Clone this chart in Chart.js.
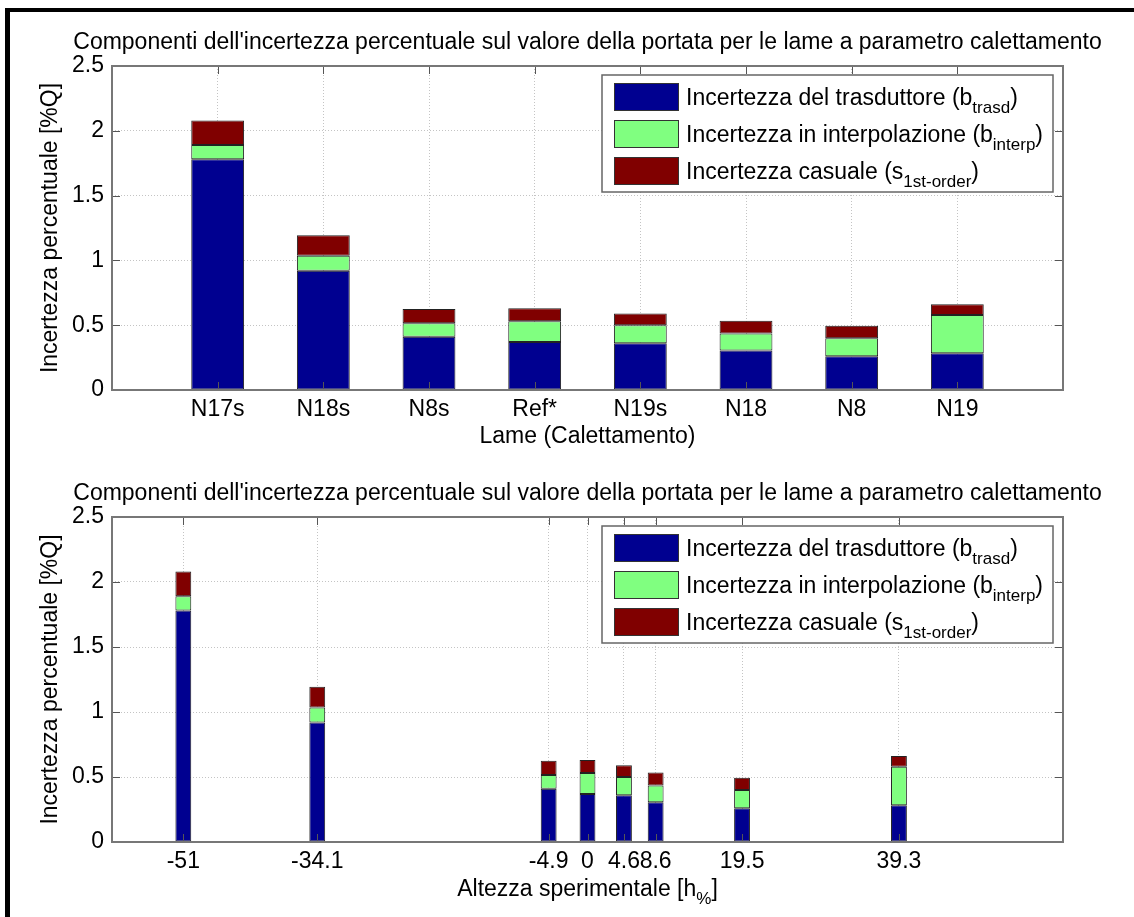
<!DOCTYPE html>
<html>
<head>
<meta charset="utf-8">
<script src="https://cdn.jsdelivr.net/npm/chart.js@4.4.1/dist/chart.umd.min.js"></script>
<style>
  html, body { margin: 0; padding: 0; background: #fff; }
  #page { position: relative; width: 1134px; height: 917px; overflow: hidden; background: #fff; }
  .pane { position: absolute; left: 0; width: 1134px; }
  .frame-top { position: absolute; left: 5px; top: 8px; width: 1129px; height: 4px; background: #000; }
  .frame-left { position: absolute; left: 5px; top: 8px; width: 5px; height: 909px; background: #000; }
</style>
</head>
<body>
<div id="page">
  <div class="pane" style="top:0;height:458px"><canvas id="chartLame"></canvas></div>
  <div class="pane" style="top:458px;height:459px"><canvas id="chartAltezza"></canvas></div>
  <div class="frame-top"></div>
  <div class="frame-left"></div>
</div>
<script>
// Blade labels (setting-angle parameter) and the experimental height of each blade
const categories = ['N17s', 'N18s', 'N8s', 'Ref*', 'N19s', 'N18', 'N8', 'N19'];
const positions = [1, 2, 3, 4, 5, 6, 7, 8];
const heights = [-51, -34.1, -4.9, 0, 4.6, 8.6, 19.5, 39.3];

// Uncertainty components, % of flow rate
const bTrasd  = [1.78, 0.92, 0.41, 0.37, 0.36, 0.305, 0.26, 0.283];
const bInterp = [0.11, 0.115, 0.105, 0.16, 0.14, 0.13, 0.14, 0.296];
const sCasual = [0.19, 0.16, 0.11, 0.10, 0.09, 0.10, 0.095, 0.082];

const yTicks = [0, 0.5, 1, 1.5, 2, 2.5];

const seriesLabels = [
  'Incertezza del trasduttore (b_{trasd})',
  'Incertezza in interpolazione (b_{interp})',
  'Incertezza casuale (s_{1st-order})'
];
const seriesColors = ['#000090', '#80ff80', '#800000'];

const titleText = "Componenti dell'incertezza percentuale sul valore della portata per le lame a parametro calettamento";
const yTitle = 'Incertezza percentuale [%Q]';
const xTitleLame = 'Lame (Calettamento)';
const xTitleAltezza = 'Altezza sperimentale [h_{%}]';

const FAMILY = '"Liberation Sans", Arial, Helvetica, sans-serif';
const FONT_SIZE = 23;
Chart.defaults.font.family = FAMILY;
Chart.defaults.font.size = FONT_SIZE;
Chart.defaults.color = '#000';

// "_{...}" marks a subscript run
function parseRich(s) {
  const out = [];
  const re = /_\{([^}]*)\}/g;
  let last = 0, m;
  while ((m = re.exec(s))) {
    if (m.index > last) out.push({ t: s.slice(last, m.index), sub: false });
    out.push({ t: m[1], sub: true });
    last = re.lastIndex;
  }
  if (last < s.length) out.push({ t: s.slice(last), sub: false });
  return out;
}

function drawRich(ctx, s, x, y, align, size) {
  const parts = parseRich(s);
  const mainFont = size + 'px ' + FAMILY;
  const subFont = Math.round(size * 0.75) + 'px ' + FAMILY;
  let w = 0;
  parts.forEach(p => { ctx.font = p.sub ? subFont : mainFont; p.w = ctx.measureText(p.t).width; w += p.w; });
  let cx = align === 'center' ? x - w / 2 : x;
  ctx.textAlign = 'left';
  ctx.textBaseline = 'alphabetic';
  ctx.fillStyle = '#000';
  parts.forEach(p => {
    ctx.font = p.sub ? subFont : mainFont;
    ctx.fillText(p.t, cx, p.sub ? y + Math.round(size * 0.33) : y);
    cx += p.w;
  });
}

// Axes box, inward tick marks, title, legend and rich x title
const matlabAxes = {
  id: 'matlabAxes',
  afterDraw(chart, args, opts) {
    const ctx = chart.ctx;
    const { left, right, top, bottom } = chart.chartArea;
    const xs = chart.scales.x, ys = chart.scales.y;
    ctx.save();

    // tick marks pointing into the axes
    ctx.strokeStyle = '#555';
    ctx.lineWidth = 1;
    ctx.beginPath();
    xs.ticks.forEach(t => {
      const px = Math.round(xs.getPixelForValue(t.value)) + 0.5;
      ctx.moveTo(px, bottom); ctx.lineTo(px, bottom - 8);
      ctx.moveTo(px, top); ctx.lineTo(px, top + 8);
    });
    ys.ticks.forEach(t => {
      const py = Math.round(ys.getPixelForValue(t.value)) + 0.5;
      ctx.moveTo(left, py); ctx.lineTo(left + 8, py);
      ctx.moveTo(right, py); ctx.lineTo(right - 8, py);
    });
    ctx.stroke();

    // axes box
    ctx.strokeStyle = '#777';
    ctx.lineWidth = 2;
    ctx.strokeRect(left, top, right - left, bottom - top);

    // title
    ctx.fillStyle = '#000';
    ctx.font = FONT_SIZE + 'px ' + FAMILY;
    ctx.textAlign = 'center';
    ctx.textBaseline = 'alphabetic';
    ctx.fillText(opts.title, (left + right) / 2, top - 17);

    // x title with subscript
    if (opts.xTitle) {
      drawRich(ctx, opts.xTitle, (left + right) / 2, bottom + 54, 'center', FONT_SIZE);
    }

    // legend
    const lg = opts.legend;
    const lx = lg.left, ly = top + lg.offsetTop;
    ctx.fillStyle = '#fff';
    ctx.fillRect(lx, ly, lg.width, lg.height);
    ctx.strokeStyle = '#666';
    ctx.lineWidth = 1.5;
    ctx.strokeRect(lx, ly, lg.width, lg.height);
    chart.data.datasets.forEach((ds, i) => {
      const cy = ly + 22 + i * 37;
      ctx.fillStyle = ds.backgroundColor;
      ctx.fillRect(lx + 12, cy - 14, 65, 28);
      ctx.strokeStyle = '#333';
      ctx.lineWidth = 1;
      ctx.strokeRect(lx + 12.5, cy - 13.5, 64, 27);
      drawRich(ctx, ds.label, lx + 84, cy + 8, 'left', FONT_SIZE);
    });
    ctx.restore();
  }
};

function buildDatasets(xValues) {
  const series = [bTrasd, bInterp, sCasual];
  return series.map((vals, i) => ({
    label: seriesLabels[i],
    data: vals.map((v, k) => ({ x: xValues[k], y: v })),
    backgroundColor: seriesColors[i],
    borderColor: '#222',
    borderWidth: 1,
    borderSkipped: false,
    categoryPercentage: 1,
    barPercentage: 0.5
  }));
}

function makeChart(id, xValues, tickLabel, xMin, xMax, paneHeight, areaTop, areaBottom, xTitleBuiltIn, xTitleRich, legendTop) {
  return new Chart(document.getElementById(id), {
    type: 'bar',
    data: { datasets: buildDatasets(xValues) },
    plugins: [matlabAxes],
    options: {
      responsive: true,
      maintainAspectRatio: false,
      animation: false,
      layout: { padding: { top: areaTop, right: 71, left: 0, bottom: 0 } },
      plugins: {
        legend: { display: false },
        tooltip: { enabled: false },
        title: { display: false },
        matlabAxes: {
          title: titleText,
          xTitle: xTitleRich,
          legend: { left: 602, offsetTop: legendTop, width: 451, height: 117 }
        }
      },
      scales: {
        x: {
          type: 'linear',
          stacked: true,
          offset: false,
          min: xMin,
          max: xMax,
          afterBuildTicks: s => { s.ticks = xValues.map(v => ({ value: v })); },
          afterFit: s => { s.height = paneHeight - areaBottom; },
          ticks: {
            autoSkip: false,
            maxRotation: 0,
            minRotation: 0,
            padding: 6,
            callback: tickLabel
          },
          grid: { color: '#c4c4c4', lineWidth: 1, drawTicks: false, offset: false },
          border: { display: false, dash: [1, 2] },
          title: {
            display: !!xTitleBuiltIn,
            text: xTitleBuiltIn || '',
            padding: { top: 0, bottom: 8 }
          }
        },
        y: {
          type: 'linear',
          stacked: true,
          min: 0,
          max: 2.5,
          afterBuildTicks: s => { s.ticks = yTicks.map(v => ({ value: v })); },
          afterFit: s => { s.width = 112; },
          ticks: { padding: 8, callback: v => String(v) },
          grid: { color: '#c4c4c4', lineWidth: 1, drawTicks: false },
          border: { display: false, dash: [1, 2] },
          title: { display: true, text: yTitle, padding: { top: 37, bottom: 0 } }
        }
      }
    }
  });
}

makeChart('chartLame', positions, v => categories[positions.indexOf(v)], 0, 9,
  458, 66, 390, xTitleLame, null, 9);
makeChart('chartAltezza', heights, v => String(v), -60, 60,
  459, 59, 384, null, xTitleAltezza, 9);
</script>
</body>
</html>
